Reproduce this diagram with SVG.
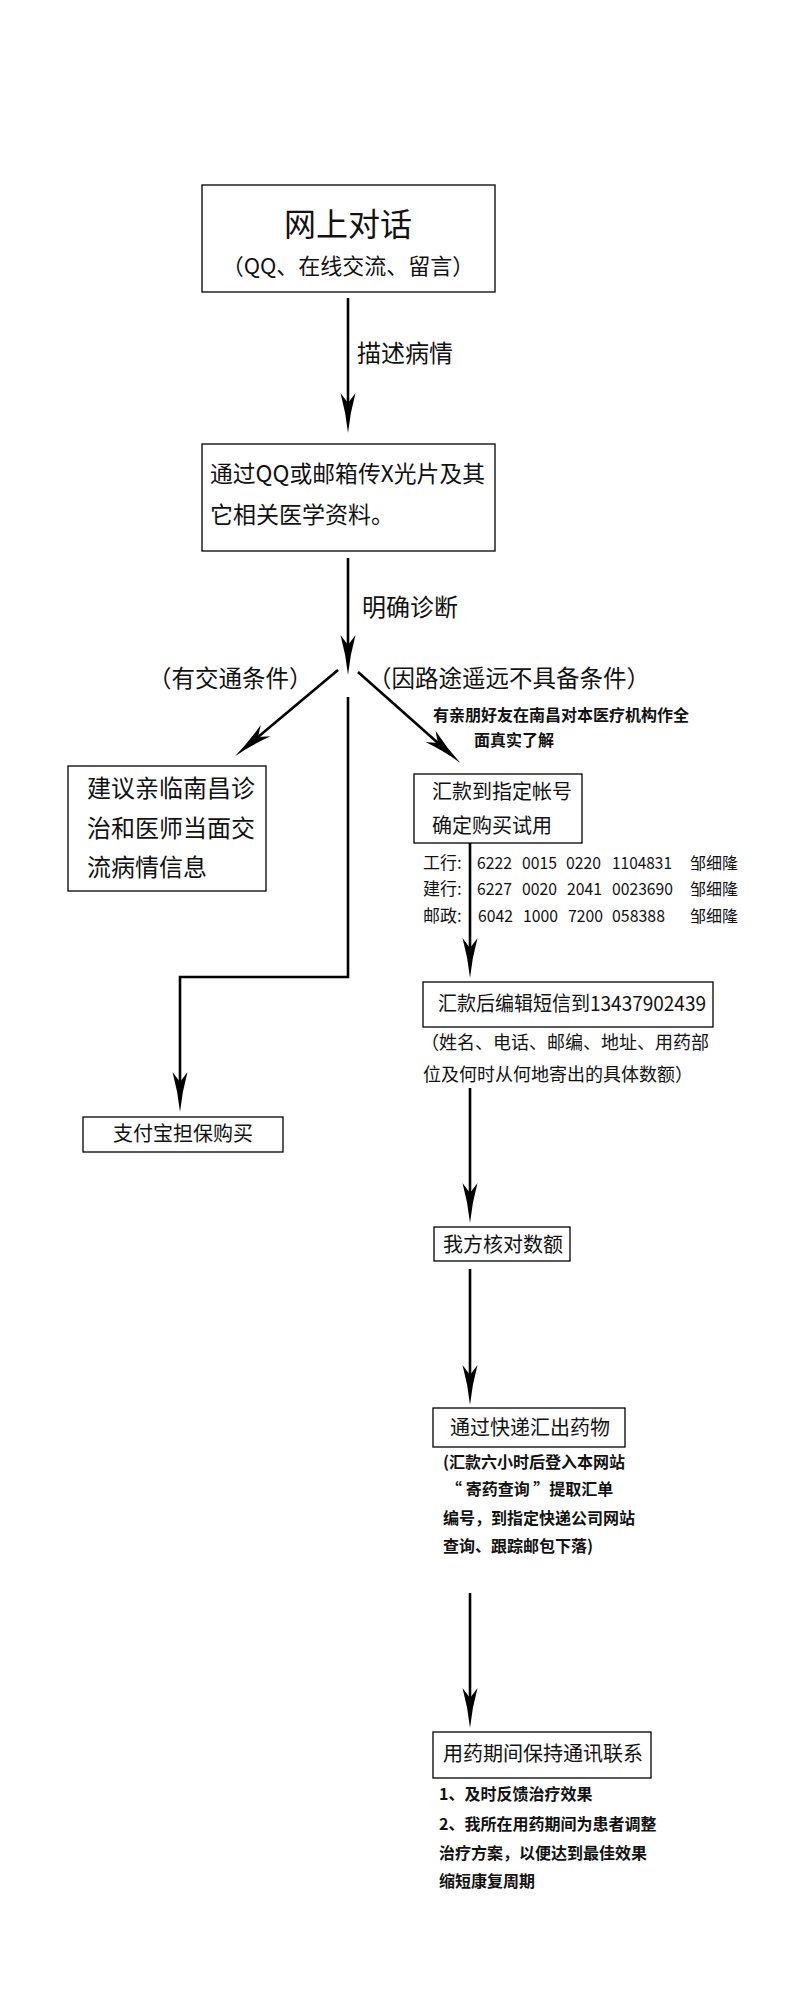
<svg xmlns="http://www.w3.org/2000/svg" width="798" height="2000" viewBox="0 0 798 2000">
<style>
.box{fill:#fff;stroke:#000;stroke-width:1.3}
.t{font-family:"Noto Sans CJK SC","Noto Sans",sans-serif;fill:#111}
.b{font-weight:bold}
.ln{fill:none;stroke:#000;stroke-width:2.6;stroke-linejoin:miter}
.ar{marker-end:url(#ah)}
</style>
<defs>
<marker id="ah" viewBox="0 -8 42 16" refX="10" refY="0" markerWidth="42" markerHeight="16" markerUnits="userSpaceOnUse" orient="auto">
<path d="M40,0 Q20,-2 0,-7.5 L10,0 L0,7.5 Q20,2 40,0 Z" fill="#000"/>
</marker>
</defs>
<rect width="798" height="2000" fill="#fff"/>

<g id="connectors">
<line class="ln ar" x1="348" y1="298" x2="348" y2="403"/>
<line class="ln ar" x1="348" y1="558" x2="348" y2="645"/>
<line class="ln ar" x1="338" y1="670" x2="258" y2="737"/>
<line class="ln ar" x1="358" y1="672" x2="438" y2="743"/>
<polyline class="ln ar" points="348,697 348,977 180,977 180,1082"/>
<line class="ln ar" x1="470" y1="843" x2="470" y2="948"/>
<line class="ln ar" x1="470" y1="1088" x2="470" y2="1193"/>
<line class="ln ar" x1="470" y1="1269" x2="470" y2="1375"/>
<line class="ln ar" x1="470" y1="1593" x2="470" y2="1698"/>
</g>

<g id="labels">
<text class="t" x="357" y="362" font-size="24">描述病情</text>
<text class="t" x="362" y="616" font-size="24">明确诊断</text>
<text class="t" x="148" y="687" font-size="23.5">（有交通条件）</text>
<text class="t" x="368" y="687" font-size="23.5">（因路途遥远不具备条件）</text>
<text class="t b" x="433" y="721" font-size="16">有亲朋好友在南昌对本医疗机构作全</text>
<text class="t b" x="474" y="746" font-size="16">面真实了解</text>
</g>

<g id="n1">
<rect class="box" x="202" y="185" width="293" height="107"/>
<text class="t" x="348" y="236" font-size="32" text-anchor="middle">网上对话</text>
<text class="t" x="348" y="274" font-size="22" text-anchor="middle">（QQ、在线交流、留言）</text>
</g>

<g id="n2">
<rect class="box" x="202" y="444" width="293" height="107"/>
<text class="t" x="210" y="482" font-size="23" textLength="275" lengthAdjust="spacingAndGlyphs">通过QQ或邮箱传X光片及其</text>
<text class="t" x="210" y="523" font-size="23">它相关医学资料。</text>
</g>

<g id="n3">
<rect class="box" x="68" y="766" width="198" height="125"/>
<text class="t" x="87" y="797" font-size="24">建议亲临南昌诊</text>
<text class="t" x="87" y="837" font-size="24">治和医师当面交</text>
<text class="t" x="87" y="876" font-size="24">流病情信息</text>
</g>

<g id="n4">
<rect class="box" x="414" y="774" width="168" height="69"/>
<text class="t" x="432" y="799" font-size="20">汇款到指定帐号</text>
<text class="t" x="432" y="833" font-size="20">确定购买试用</text>
</g>

<g id="bank">
<text class="t" x="423" y="869" font-size="17">工行:</text>
<text class="t" x="423" y="895" font-size="17">建行:</text>
<text class="t" x="423" y="922" font-size="17">邮政:</text>
<g class="t" font-size="17">
<text x="477" y="869" textLength="35" lengthAdjust="spacingAndGlyphs">6222</text>
<text x="522" y="869" textLength="35" lengthAdjust="spacingAndGlyphs">0015</text>
<text x="566" y="869" textLength="35" lengthAdjust="spacingAndGlyphs">0220</text>
<text x="612" y="869" textLength="60" lengthAdjust="spacingAndGlyphs">1104831</text>
<text x="477" y="895" textLength="35" lengthAdjust="spacingAndGlyphs">6227</text>
<text x="522" y="895" textLength="35" lengthAdjust="spacingAndGlyphs">0020</text>
<text x="567" y="895" textLength="35" lengthAdjust="spacingAndGlyphs">2041</text>
<text x="612" y="895" textLength="61" lengthAdjust="spacingAndGlyphs">0023690</text>
<text x="478" y="922" textLength="35" lengthAdjust="spacingAndGlyphs">6042</text>
<text x="523" y="922" textLength="35" lengthAdjust="spacingAndGlyphs">1000</text>
<text x="568" y="922" textLength="35" lengthAdjust="spacingAndGlyphs">7200</text>
<text x="612" y="922" textLength="53" lengthAdjust="spacingAndGlyphs">058388</text>
</g>
<text class="t" x="690" y="869" font-size="16">邹细隆</text>
<text class="t" x="690" y="895" font-size="16">邹细隆</text>
<text class="t" x="690" y="922" font-size="16">邹细隆</text>
</g>

<g id="n5">
<rect class="box" x="83" y="1117" width="200" height="35"/>
<text class="t" x="183" y="1141" font-size="20" text-anchor="middle">支付宝担保购买</text>
</g>

<g id="n6">
<rect class="box" x="423" y="982" width="290" height="45"/>
<text class="t" x="438" y="1011" font-size="20" textLength="268" lengthAdjust="spacingAndGlyphs">汇款后编辑短信到13437902439</text>
<text class="t" x="421" y="1049" font-size="18">（姓名、电话、邮编、地址、用药部</text>
<text class="t" x="423" y="1081" font-size="18">位及何时从何地寄出的具体数额）</text>
</g>

<g id="n7">
<rect class="box" x="434" y="1227" width="136" height="34"/>
<text class="t" x="443" y="1252" font-size="20">我方核对数额</text>
</g>

<g id="n8">
<rect class="box" x="433" y="1408" width="192" height="39"/>
<text class="t" x="450" y="1435" font-size="20">通过快递汇出药物</text>
<text class="t b" x="443" y="1468" font-size="16">(汇款六小时后登入本网站</text>
<text class="t b" x="446" y="1495" font-size="16" xml:space="preserve">“ 寄药查询 ”提取汇单</text>
<text class="t b" x="443" y="1524" font-size="16">编号，到指定快递公司网站</text>
<text class="t b" x="443" y="1552" font-size="16">查询、跟踪邮包下落)</text>
</g>

<g id="n9">
<rect class="box" x="433" y="1732" width="218" height="46"/>
<text class="t" x="443" y="1761" font-size="20">用药期间保持通讯联系</text>
<text class="t b" x="439" y="1800" font-size="16">1、及时反馈治疗效果</text>
<text class="t b" x="439" y="1830" font-size="16">2、我所在用药期间为患者调整</text>
<text class="t b" x="439" y="1859" font-size="16">治疗方案，以便达到最佳效果</text>
<text class="t b" x="439" y="1887" font-size="16">缩短康复周期</text>
</g>
</svg>
